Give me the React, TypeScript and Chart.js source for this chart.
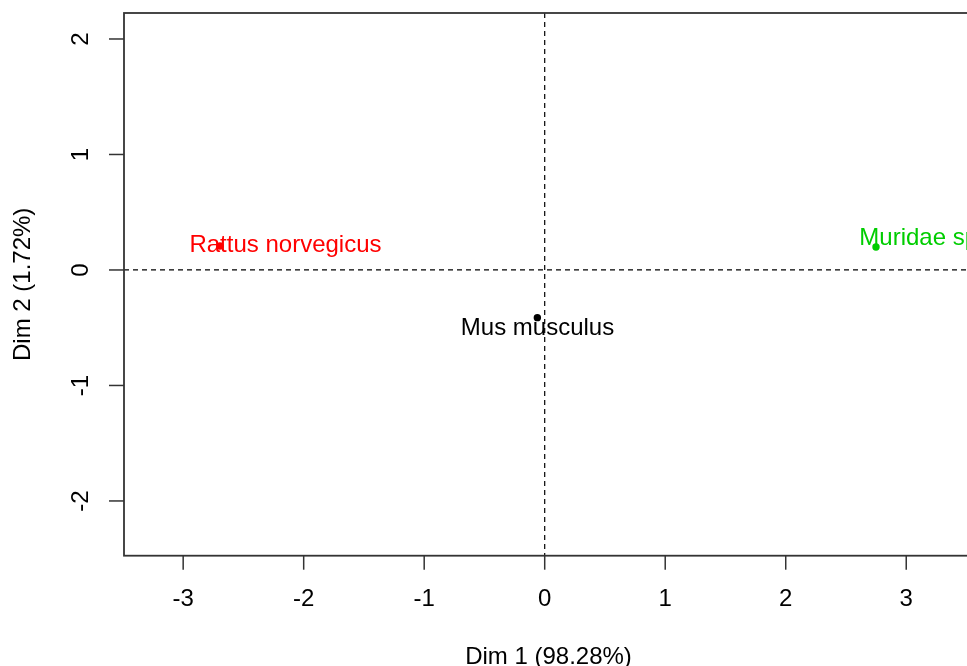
import React, { useEffect, useRef } from "react";
import { Chart, registerables } from "chart.js";

Chart.register(...registerables);

const species = ["Rattus norvegicus", "Mus musculus", "Muridae sp."];
const dim1 = [-2.695, -0.061, 2.749];
const dim2 = [0.208, -0.413, 0.199];
const labelDim1 = [-2.151, -0.06, 3.131];
const labelDim2 = [0.215, -0.502, 0.276];
const pointColors = ["#FF0000", "#000000", "#00CD00"];
const xTicks = [-3, -2, -1, 0, 1, 2, 3];
const yTicks = [-2, -1, 0, 1, 2];
const xTitle = "Dim 1 (98.28%)";
const yTitle = "Dim 2 (1.72%)";
const xMin = -3.491;
const xMax = 3.554;
const yMin = -2.474;
const yMax = 2.225;

const FONT = '24px "Liberation Sans", Arial, Helvetica, sans-serif';

const axesPlugin = {
  id: "rAxes",
  beforeDatasetsDraw(chart: any) {
    const { ctx, chartArea, scales } = chart;
    const xs = scales.x;
    const ys = scales.y;
    const { left, right, top, bottom } = chartArea;
    ctx.save();
    // dashed reference lines
    ctx.strokeStyle = "#000";
    ctx.lineWidth = 1.2;
    ctx.setLineDash([5, 4]);
    const x0 = xs.getPixelForValue(0);
    const y0 = ys.getPixelForValue(0);
    ctx.beginPath();
    ctx.moveTo(left, y0);
    ctx.lineTo(right, y0);
    ctx.moveTo(x0, top);
    ctx.lineTo(x0, bottom);
    ctx.stroke();
    ctx.setLineDash([]);

    // frame
    ctx.strokeStyle = "#333";
    ctx.lineWidth = 1.8;
    ctx.strokeRect(left, top, right - left, bottom - top);

    // x ticks
    ctx.fillStyle = "#000";
    ctx.font = FONT;
    ctx.textAlign = "center";
    ctx.textBaseline = "middle";
    ctx.lineWidth = 1.5;
    for (const t of xTicks) {
      const px = xs.getPixelForValue(t);
      ctx.beginPath();
      ctx.moveTo(px, bottom);
      ctx.lineTo(px, bottom + 14);
      ctx.stroke();
      ctx.fillText(String(t), px, bottom + 43.5);
    }
    // y ticks
    for (const t of yTicks) {
      const py = ys.getPixelForValue(t);
      ctx.beginPath();
      ctx.moveTo(left, py);
      ctx.lineTo(left - 15, py);
      ctx.stroke();
      ctx.save();
      ctx.translate(left - 43, py);
      ctx.rotate(-Math.PI / 2);
      ctx.fillText(String(t), 0, 0);
      ctx.restore();
    }
    // titles
    ctx.fillText(xTitle, (left + right) / 2, bottom + 101.5);
    ctx.save();
    ctx.translate(23, (top + bottom) / 2);
    ctx.rotate(-Math.PI / 2);
    ctx.fillText(yTitle, 0, 0);
    ctx.restore();
    ctx.restore();
  },
  afterDatasetsDraw(chart: any) {
    const { ctx, scales } = chart;
    ctx.save();
    ctx.font = FONT;
    ctx.textAlign = "center";
    ctx.textBaseline = "middle";
    species.forEach((name, i) => {
      ctx.fillStyle = pointColors[i];
      ctx.fillText(
        name,
        scales.x.getPixelForValue(labelDim1[i]),
        scales.y.getPixelForValue(labelDim2[i])
      );
    });
    ctx.restore();
  },
};

export default function App() {
  const ref = useRef<HTMLCanvasElement | null>(null);
  useEffect(() => {
    if (!ref.current) return;
    const chart = new Chart(ref.current, {
      type: "scatter",
      data: {
        datasets: [
          {
            label: "Individuals",
            data: dim1.map((x, i) => ({ x, y: dim2[i] })),
            pointBackgroundColor: pointColors,
            pointBorderColor: pointColors,
            pointRadius: 3.7,
            pointBorderWidth: 0,
          },
        ],
      },
      options: {
        animation: false,
        responsive: false,
        devicePixelRatio: 1,
        layout: { padding: { left: 124, top: 13, right: 27, bottom: 110.3 } },
        plugins: { legend: { display: false }, tooltip: { enabled: false } },
        scales: {
          x: { type: "linear", min: xMin, max: xMax, display: false },
          y: { type: "linear", min: yMin, max: yMax, display: false },
        },
      },
      plugins: [axesPlugin],
    });
    return () => chart.destroy();
  }, []);
  return (
    <div style={{ position: "fixed", left: 0, top: 0, width: 1000, height: 666, background: "#fff" }}>
      <canvas ref={ref} width={1000} height={666} />
    </div>
  );
}
